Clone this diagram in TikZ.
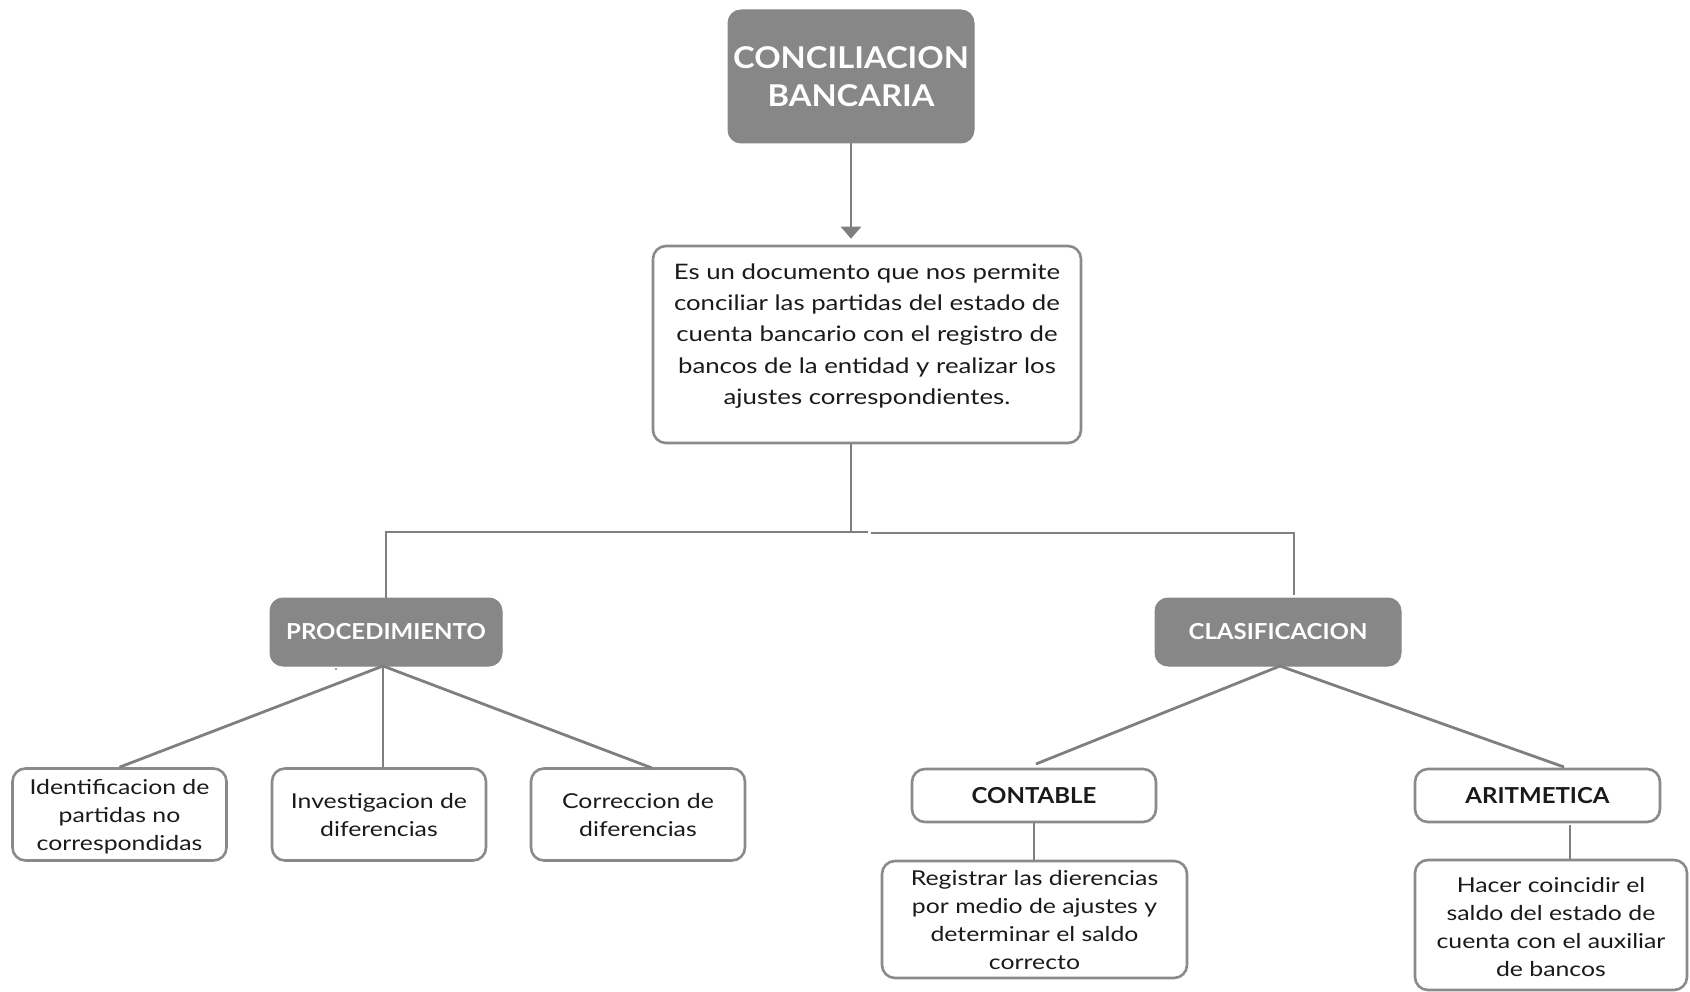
\documentclass[tikz,border=0pt]{standalone}
\usepackage{fontspec}
\setmainfont{Lato}[FakeStretch=1.21]
\newfontfamily\hdfont{Lato}[FakeStretch=1.09]
\usetikzlibrary{arrows.meta}
\definecolor{fillgray}{HTML}{878787}
\definecolor{bordgray}{HTML}{8A8A8A}
\definecolor{linegray}{HTML}{7F7F7F}
\definecolor{txt}{HTML}{1A1A1A}
\begin{document}
\begin{tikzpicture}[x=1pt,y=-1pt,
  darkbox/.style={draw=fillgray, fill=fillgray, rounded corners=13pt, line width=1pt, text=white, font=\hdfont\bfseries\fontsize{22}{26}\selectfont, inner sep=0pt, align=center},
  wbox/.style={draw=bordgray, fill=white, rounded corners=13pt, line width=2.6pt, inner sep=0pt, align=center, text=txt},
  btxt/.style={inner sep=0pt, align=center, text=txt, font=\fontsize{20.5}{28}\selectfont},
  conn/.style={draw=linegray, line width=2.8pt},
]
\useasboundingbox (0,0) rectangle (1690,992);

% top title
\node[darkbox, minimum width=246pt, minimum height=133pt, font=\hdfont\bfseries\fontsize{30}{38}\selectfont] (top) at (851,76.5) {CONCILIACION\\BANCARIA};

% definition box
\node[wbox, minimum width=428pt, minimum height=197pt] (main) at (867,344.5) {};
\node[btxt, font=\fontsize{21.3}{31.3}\selectfont] (maintxt) at (867,336) {Es un documento que nos permite\\conciliar las partidas del estado de\\cuenta bancario con el registro de\\bancos de la entidad y realizar los\\ajustes correspondientes.};

% second level
\node[darkbox, minimum width=232pt, minimum height=68pt] (proc) at (386,632) {PROCEDIMIENTO};
\node[darkbox, minimum width=246pt, minimum height=68pt] (clas) at (1278,632) {CLASIFICACION};

% procedure children
\node[wbox, minimum width=214pt, minimum height=92pt] (b1) at (119.5,814.5) {};
\node[btxt] (b1t) at (119.5,817) {Identificacion de\\partidas no\\correspondidas};
\node[wbox, minimum width=214pt, minimum height=92pt] (b2) at (379,814.5) {};
\node[btxt] (b2t) at (379,815.5) {Investigacion de\\diferencias};
\node[wbox, minimum width=214pt, minimum height=92pt] (b3) at (638,814.5) {};
\node[btxt] (b3t) at (638,815.5) {Correccion de\\diferencias};

% classification children
\node[wbox, minimum width=244pt, minimum height=53pt, font=\hdfont\bfseries\fontsize{22}{26}\selectfont] (cont) at (1034,795.5) {CONTABLE};
\node[wbox, minimum width=245pt, minimum height=53pt, font=\hdfont\bfseries\fontsize{22}{26}\selectfont] (arit) at (1537.5,795.5) {ARITMETICA};
\node[wbox, minimum width=305pt, minimum height=117pt] (reg) at (1034.5,919.5) {};
\node[btxt] (regt) at (1034.5,920.5) {Registrar las dierencias\\por medio de ajustes y\\determinar el saldo\\correcto};
\node[wbox, minimum width=272pt, minimum height=130pt] (hac) at (1551,925) {};
\node[btxt] (hact) at (1551,927.5) {Hacer coincidir el\\saldo del estado de\\cuenta con el auxiliar\\de bancos};

% coordinates for connector ends
\coordinate (jc) at (851,532);
\coordinate (jl) at (868,532);
\coordinate (jr) at (871,533);
\coordinate (cr) at (1294,595);
\coordinate (pa) at (383,666);
\coordinate (p3) at (652,768);
\coordinate (ca) at (1280,666);
\coordinate (c1) at (1036,764);
\coordinate (c2) at (1564,767);
\coordinate (av) at (1570,825);

% connectors
\draw[conn, -{Triangle[width=20pt,length=12pt]}, shorten >=6pt] (top.south) -- (top.south |- main.north);
\draw[conn] (top.south |- main.south) -- (jc);
\draw[conn] (jl) -- (jl -| proc.north) -- (proc.north);
\draw[conn] (jr) -- (jr -| cr) -- (cr);

\draw[conn] (pa) -- (b1.north);
\draw[conn] (pa) -- (pa |- b2.north);
\draw[conn] (pa) -- (p3);

\draw[conn] (ca) -- (c1);
\draw[conn] (ca) -- (c2);
\draw[conn] (cont.south) -- (cont.south |- reg.north);
\draw[conn] (av) -- (av |- hac.north);

% stray dot
\fill[linegray] (336,669) circle (1.2pt);
\end{tikzpicture}
\end{document}
